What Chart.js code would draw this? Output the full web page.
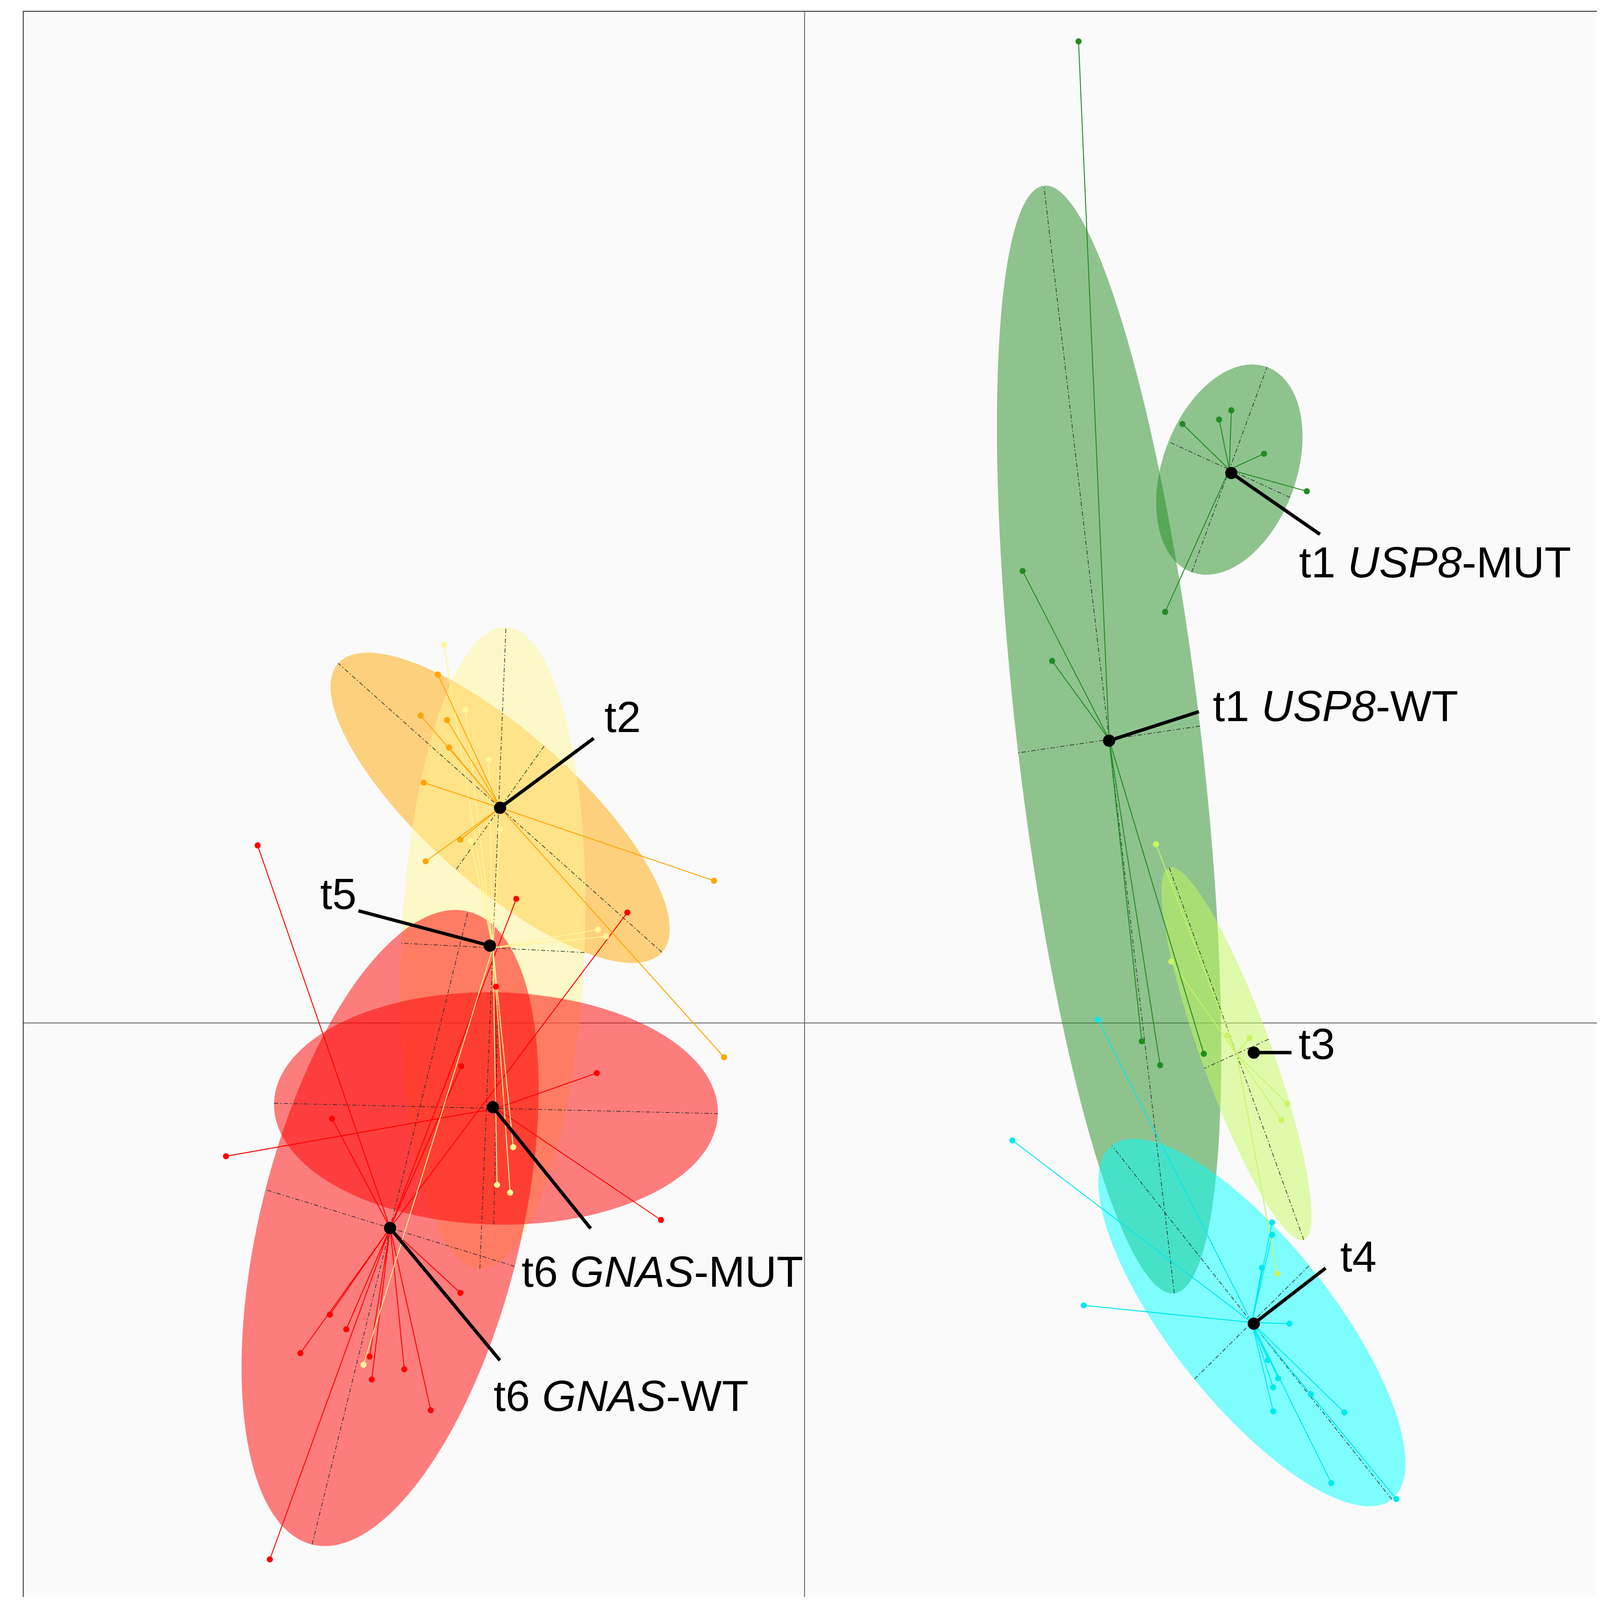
<!DOCTYPE html>
<html>
<head>
<meta charset="utf-8">
<script src="https://cdn.jsdelivr.net/npm/chart.js@4.4.1/dist/chart.umd.min.js"></script>
<style>
  html, body { margin: 0; padding: 0; background: #ffffff; overflow: hidden; }
  #wrap { position: relative; width: 100vw; height: 100vh; }
</style>
</head>
<body>
<div id="wrap"><canvas id="ord"></canvas></div>
<script>
// groups, in the order the ellipses are stacked
const groups = ['t1 USP8-WT', 't1 USP8-MUT', 't2', 't3', 't4', 't5', 't6 GNAS-MUT', 't6 GNAS-WT'];

// sample scores (axis 1, axis 2) per group
const ptsUsp8WT = [[1.793, 5.747], [1.427, 2.647], [1.62, 2.12], [2.207, -0.107], [2.327, -0.247], [2.613, -0.18]];
const ptsUsp8MUT = [[2.473, 3.507], [2.713, 3.533], [2.793, 3.587], [3.007, 3.333], [3.287, 3.113], [2.36, 2.407]];
const ptsT2 = [[-2.4, 2.04], [-2.513, 1.8], [-2.34, 1.773], [-2.327, 1.613], [-2.493, 1.407], [-2.253, 1.073], [-2.48, 0.947], [-0.593, 0.833], [-0.527, -0.2]];
const ptsT3 = [[2.3, 1.047], [2.4, 0.36], [2.767, -0.073], [2.913, -0.087], [3.16, -0.473], [3.12, -0.567], [3.093, -1.467]];
const ptsT4 = [[1.92, 0.02], [1.36, -0.687], [1.827, -1.653], [3.06, -1.167], [3.06, -1.24], [2.993, -1.433], [3.173, -1.76], [3.033, -1.973], [3.1, -2.08], [3.067, -2.133], [3.313, -2.173], [3.533, -2.28], [3.067, -2.273], [3.447, -2.693], [3.873, -2.787]];
const ptsT5 = [[-2.36, 2.213], [-2.22, 1.833], [-2.067, 1.54], [-1.993, 1.133], [-2.187, 1.067], [-1.353, 0.547], [-1.3, 0.507], [-1.907, -0.727], [-2.013, -0.947], [-1.927, -0.993], [-2.887, -2.0]];
const ptsGnasMUT = [[-3.787, -0.78], [-1.36, -0.293], [-0.94, -1.153], [-2.02, 0.213]];
const ptsGnasWT = [[-3.58, 1.04], [-1.887, 0.727], [-1.16, 0.647], [-2.247, -0.253], [-3.093, -0.56], [-2.253, -1.58], [-3.107, -1.707], [-3.0, -1.793], [-3.3, -1.933], [-2.847, -1.953], [-2.833, -2.087], [-2.62, -2.027], [-2.447, -2.267], [-3.5, -3.14]];
const groupPoints = [ptsUsp8WT, ptsUsp8MUT, ptsT2, ptsT3, ptsT4, ptsT5, ptsGnasMUT, ptsGnasWT];

// group centres (spider hubs and ellipse centres)
const groupCenters = [[1.993, 1.66], [2.78, 3.24], [-1.993, 1.26], [2.827, -0.18], [2.927, -1.753], [-2.04, 0.44], [-2.02, -0.5], [-2.713, -1.2]];
// dispersion ellipses: semi-axes and angle of the long axis (degrees)
const ellipseAxes = [[3.27, 0.6], [0.649, 0.43], [1.356, 0.462], [1.175, 0.227], [1.383, 0.5], [1.88, 0.6], [1.453, 0.68], [1.922, 0.845]];
const ellipseAngles = [97.5, 67.7, 141.4, 112, 131.5, 87.4, -1.2, 74.6];

// labels: text (*...* is italic), marked point, end of leader, text anchor
const labelText = ['t1 *USP8*-WT', 't1 *USP8*-MUT', 't2', 't3', 't4', 't5', 't6 *GNAS*-MUT', 't6 *GNAS*-WT'];
const labelDots = [[1.993, 1.653], [2.793, 3.22], [-1.993, 1.26], [2.94, -0.173], [2.94, -1.76], [-2.06, 0.453], [-2.04, -0.493], [-2.713, -1.2]];
const labelEnds = [[2.581, 1.823], [3.373, 2.861], [-1.38, 1.667], [3.187, -0.173], [3.41, -1.435], [-2.92, 0.657], [-1.4, -1.203], [-1.994, -1.975]];
const labelPos = [[2.672, 1.767], [3.236, 2.609], [-1.31, 1.703], [3.233, -0.211], [3.505, -1.455], [-3.171, 0.667], [-1.853, -1.544], [-2.036, -2.271]];

const pointColors = ['rgb(34,139,34)', 'rgb(34,139,34)', 'rgb(255,165,0)', 'rgb(200,245,100)', 'rgb(0,232,240)', 'rgb(255,246,150)', 'rgb(255,0,0)', 'rgb(255,0,0)'];
const fillColors = ['rgba(34,139,34,0.5)', 'rgba(34,139,34,0.5)', 'rgba(255,165,0,0.5)', 'rgba(196,250,92,0.5)', 'rgba(0,255,255,0.5)', 'rgba(255,246,150,0.5)', 'rgba(255,0,0,0.5)', 'rgba(255,0,0,0.5)'];

// everything below was measured on a 5232 px wide picture
const s = window.innerWidth / 5232;

function toXY(p) {
    return { x: p[0], y: p[1] };
}

// spider lines and points
const datasets = [];
groups.forEach((g, i) => {
    const c = groupCenters[i];
    const spokes = [];
    groupPoints[i].forEach(p => {
        spokes.push(toXY(c), toXY(p), { x: c[0], y: null });
    });
    datasets.push({
        type: 'line',
        label: g + ' spider',
        data: spokes,
        borderColor: pointColors[i],
        borderWidth: 3 * s,
        pointRadius: 0,
        spanGaps: false,
        fill: false,
        tension: 0,
        order: 2
    });
    datasets.push({
        type: 'scatter',
        label: g,
        data: groupPoints[i].map(toXY),
        backgroundColor: pointColors[i],
        borderWidth: 0,
        pointRadius: 10 * s,
        order: 1
    });
});

function stroke(ctx, x1, y1, x2, y2) {
    ctx.beginPath();
    ctx.moveTo(x1, y1);
    ctx.lineTo(x2, y2);
    ctx.stroke();
}

const ordPlugin = {
    id: 'ord',
    beforeDraw(chart) {
        const { ctx, chartArea: a, scales: { x, y } } = chart;
        ctx.save();
        ctx.fillStyle = '#ffffff';
        ctx.fillRect(0, 0, chart.width, chart.height);
        ctx.fillStyle = '#fafafa';
        ctx.fillRect(a.left, a.top, a.right - a.left, a.bottom - a.top);
        // zero lines
        const x0 = x.getPixelForValue(0);
        const y0 = y.getPixelForValue(0);
        ctx.strokeStyle = '#6a6a6a';
        ctx.lineWidth = 3 * s;
        stroke(ctx, x0, a.top, x0, a.bottom);
        stroke(ctx, a.left, y0, a.right, y0);
        // frame (top and left)
        ctx.strokeStyle = '#3a3a3a';
        ctx.lineWidth = 3 * s;
        ctx.beginPath();
        ctx.moveTo(a.left, a.bottom);
        ctx.lineTo(a.left, a.top);
        ctx.lineTo(a.right, a.top);
        ctx.stroke();
        ctx.restore();
    },
    beforeDatasetsDraw(chart) {
        const { ctx, scales: { x, y } } = chart;
        const geo = groupCenters.map((c, i) => {
            const [sa, sb] = ellipseAxes[i];
            const t = ellipseAngles[i] * Math.PI / 180;
            const cx = x.getPixelForValue(c[0]);
            const cy = y.getPixelForValue(c[1]);
            const ax = x.getPixelForValue(c[0] + sa * Math.cos(t)) - cx;
            const ay = y.getPixelForValue(c[1] + sa * Math.sin(t)) - cy;
            const bx = x.getPixelForValue(c[0] - sb * Math.sin(t)) - cx;
            const by = y.getPixelForValue(c[1] + sb * Math.cos(t)) - cy;
            return { cx, cy, ax, ay, bx, by };
        });
        ctx.save();
        geo.forEach((e, i) => {
            ctx.fillStyle = fillColors[i];
            ctx.beginPath();
            ctx.ellipse(e.cx, e.cy, Math.hypot(e.ax, e.ay), Math.hypot(e.bx, e.by), Math.atan2(e.ay, e.ax), 0, Math.PI * 2);
            ctx.fill();
        });
        // ellipse axes, dash-dot
        ctx.strokeStyle = 'rgba(40,40,40,0.85)';
        ctx.lineWidth = 2.5 * s;
        ctx.setLineDash([14 * s, 7 * s, 4 * s, 7 * s]);
        geo.forEach(e => {
            stroke(ctx, e.cx - e.ax, e.cy - e.ay, e.cx + e.ax, e.cy + e.ay);
            stroke(ctx, e.cx - e.bx, e.cy - e.by, e.cx + e.bx, e.cy + e.by);
        });
        ctx.restore();
    },
    afterDatasetsDraw(chart) {
        const { ctx, scales: { x, y } } = chart;
        ctx.save();
        ctx.fillStyle = '#000000';
        ctx.strokeStyle = '#000000';
        ctx.textBaseline = 'alphabetic';
        labelText.forEach((txt, i) => {
            const dx = x.getPixelForValue(labelDots[i][0]);
            const dy = y.getPixelForValue(labelDots[i][1]);
            const ex = x.getPixelForValue(labelEnds[i][0]);
            const ey = y.getPixelForValue(labelEnds[i][1]);
            ctx.lineWidth = 11 * s;
            stroke(ctx, dx, dy, ex, ey);
            ctx.beginPath();
            ctx.arc(dx, dy, 20 * s, 0, Math.PI * 2);
            ctx.fill();
            let tx = x.getPixelForValue(labelPos[i][0]);
            const ty = y.getPixelForValue(labelPos[i][1]);
            txt.split('*').forEach((seg, k) => {
                ctx.font = (k % 2 ? 'italic ' : '') + (143 * s) + 'px "Liberation Sans", Arial, sans-serif';
                ctx.fillText(seg, tx, ty);
                tx += ctx.measureText(seg).width;
            });
        });
        ctx.restore();
    }
};

new Chart(document.getElementById('ord'), {
    type: 'scatter',
    data: { datasets: datasets },
    options: {
        responsive: true,
        maintainAspectRatio: false,
        animation: false,
        events: [],
        layout: { padding: { left: 76 * s, top: 37 * s, right: 0, bottom: 0 } },
        scales: {
            x: { type: 'linear', min: -5.114, max: 5.186, display: false },
            y: { type: 'linear', min: -3.36, max: 5.923, display: false }
        },
        plugins: {
            legend: { display: false },
            tooltip: { enabled: false }
        }
    },
    plugins: [ordPlugin]
});
</script>
</body>
</html>
